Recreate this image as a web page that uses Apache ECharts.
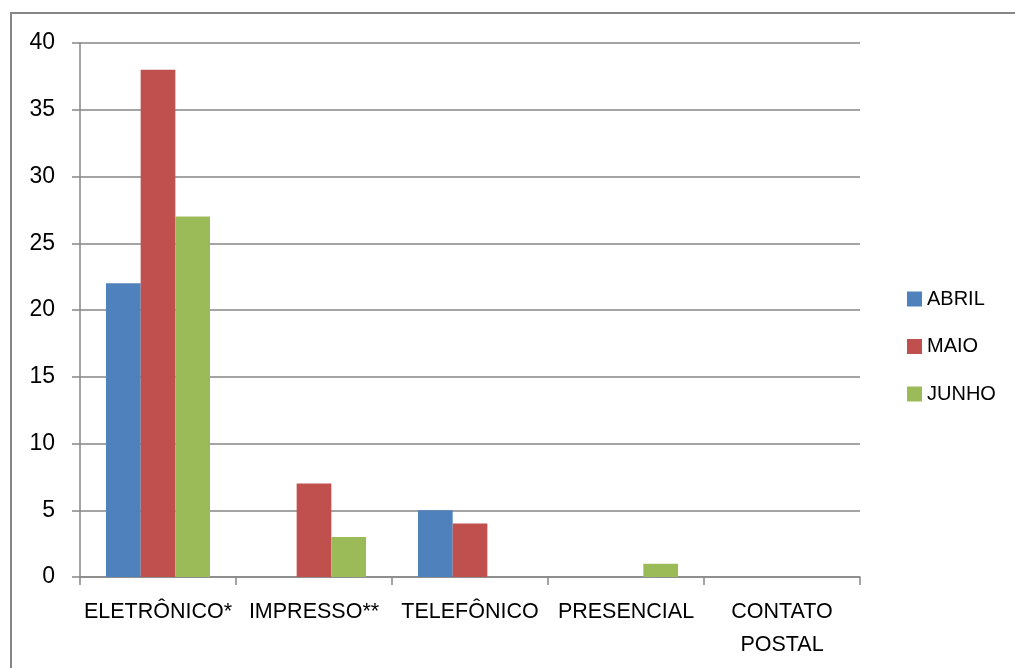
<!DOCTYPE html>
<html>
<head>
<meta charset="utf-8">
<script src="https://cdn.jsdelivr.net/npm/echarts@6/dist/echarts.min.js"></script>
<style>html,body{margin:0;padding:0;background:#fff}#c{width:1015px;height:668px}</style>
</head>
<body>
<div id="c"></div>
<script>
const categories = ['ELETRÔNICO*', 'IMPRESSO**', 'TELEFÔNICO', 'PRESENCIAL', 'CONTATO\nPOSTAL'];
const seriesNames = ['ABRIL', 'MAIO', 'JUNHO'];
const abril = [22, 0, 5, 0, 0];
const maio = [38, 7, 4, 0, 0];
const junho = [27, 3, 0, 1, 0];
const colors = ['#4F81BD', '#C0504D', '#9BBB59'];
const font = 'Liberation Sans';

const chart = echarts.init(document.getElementById('c'));
const dataSets = [abril, maio, junho];
chart.setOption({
  animation: false,
  color: colors,
  textStyle: { fontFamily: font },
  graphic: [{
    type: 'rect', shape: { x: 11, y: 13, width: 1100, height: 700 },
    style: { fill: 'none', stroke: '#868686', lineWidth: 2 }, silent: true, z: -1
  }],
  grid: { left: 80, top: 43, width: 780, height: 534 },
  legend: {
    orient: 'vertical', left: 902, top: 282,
    itemWidth: 15, itemHeight: 15, itemGap: 23.5,
    icon: 'rect',
    textStyle: { fontSize: 20, lineHeight: 24, color: '#000', fontFamily: font },
    data: seriesNames
  },
  xAxis: {
    type: 'category', data: categories,
    axisLine: { lineStyle: { color: '#868686', width: 1.5 } },
    axisTick: { show: true, length: 8, lineStyle: { color: '#868686', width: 1.5 } },
    axisLabel: { color: '#000', fontSize: 21.5, margin: 19, lineHeight: 33, fontFamily: font, interval: 0 }
  },
  yAxis: {
    type: 'value', min: 0, max: 40, interval: 5,
    axisLine: { show: true, lineStyle: { color: '#868686', width: 1.5 } },
    axisTick: { show: true, length: 8, inside: false, lineStyle: { color: '#868686', width: 1.5 } },
    splitLine: { lineStyle: { color: '#868686', width: 1.5 } },
    axisLabel: { color: '#000', fontSize: 23, margin: 25, fontFamily: font }
  },
  series: seriesNames.map((n, i) => ({
    name: n, type: 'bar', data: dataSets[i],
    barGap: '0%', barCategoryGap: '33.3%'
  }))
});
</script>
</body>
</html>
